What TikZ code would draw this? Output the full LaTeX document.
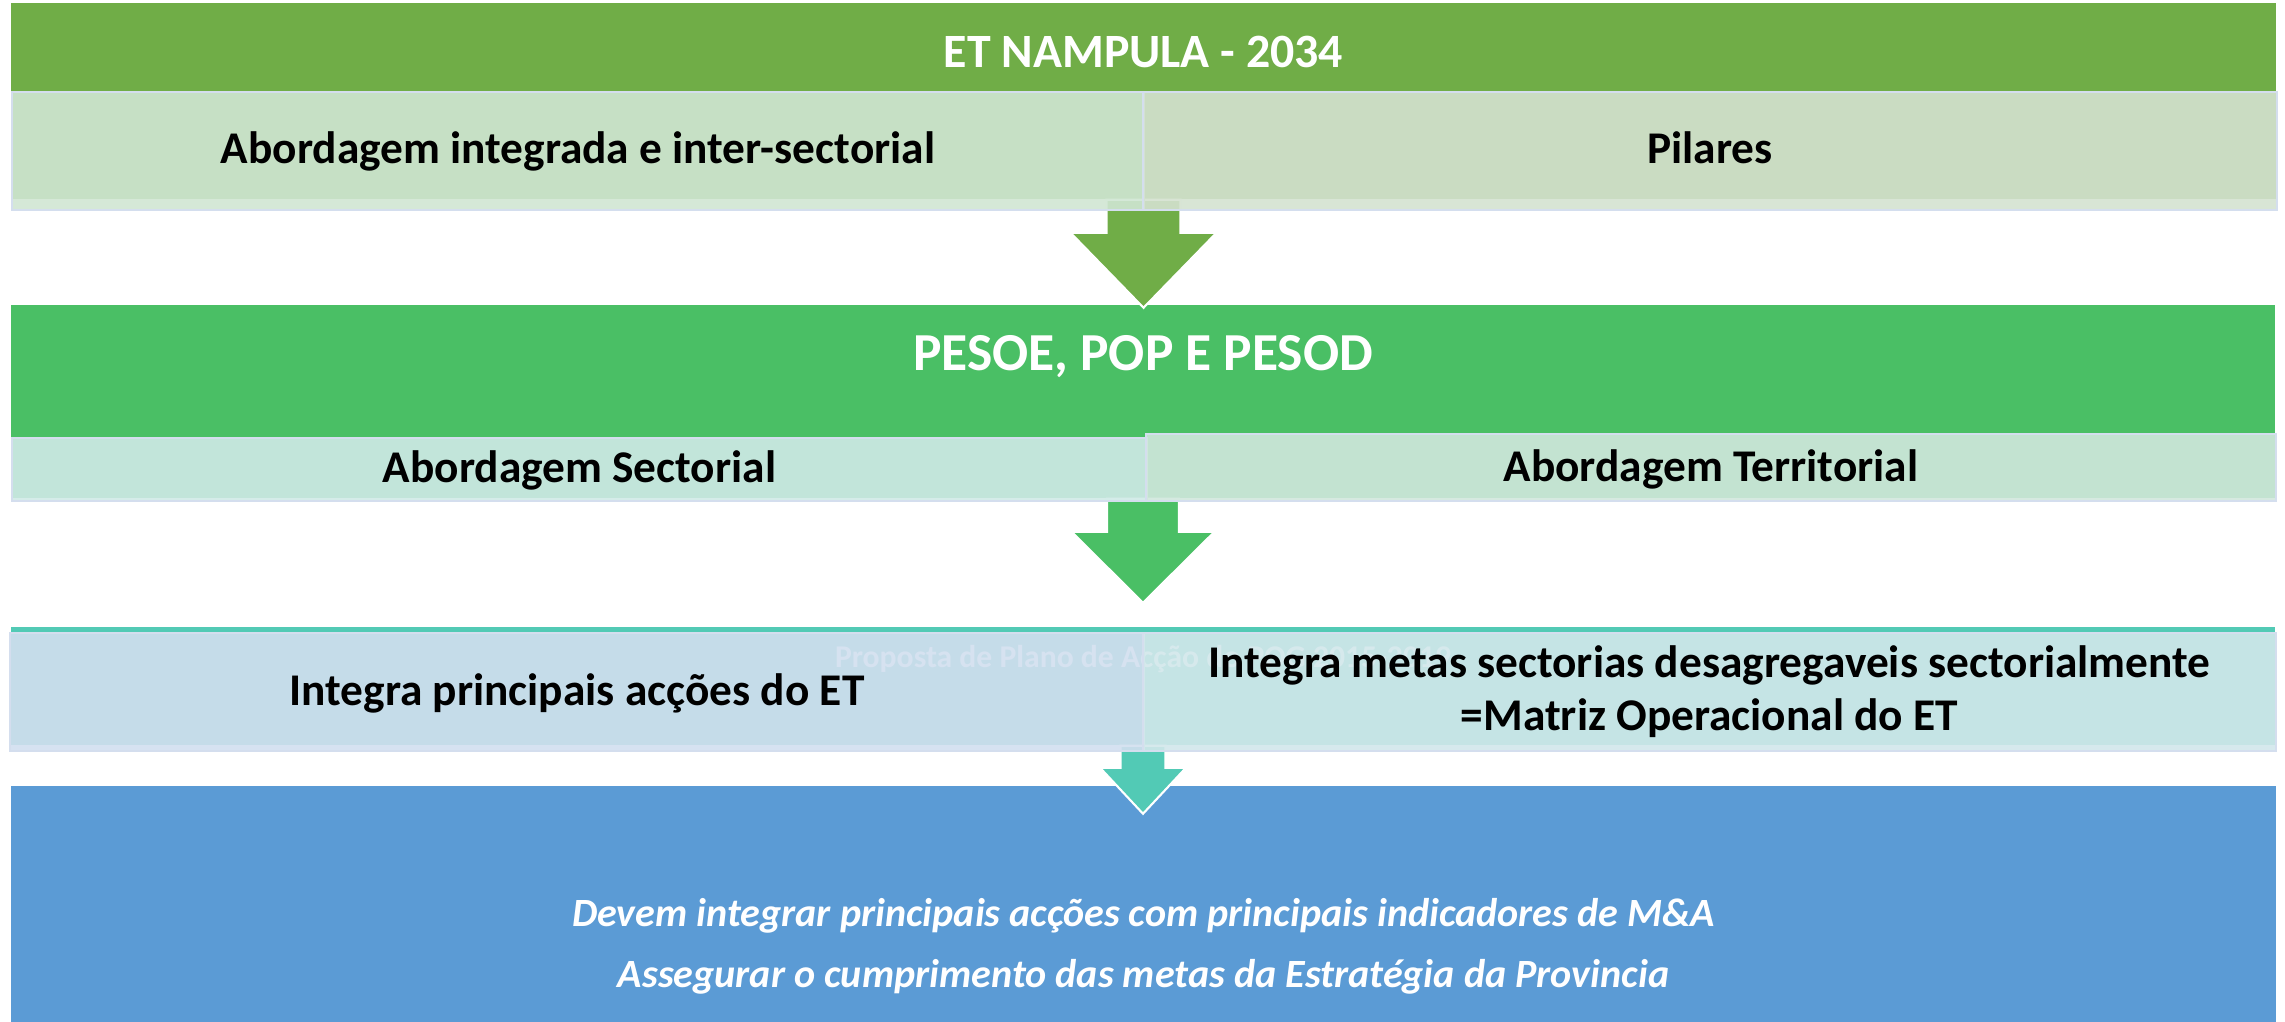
\documentclass[tikz,border=0pt]{standalone}
\usepackage{fontspec}
\setmainfont{Carlito}
\definecolor{etgreen}{RGB}{112,173,71}
\definecolor{pesgreen}{RGB}{74,191,101}
\definecolor{propteal}{RGB}{82,202,181}
\definecolor{mablue}{RGB}{91,155,213}
\definecolor{integfill}{RGB}{208,230,211}
\definecolor{pilfill}{RGB}{212,226,208}
\definecolor{sectfill}{RGB}{208,234,231}
\definecolor{terrfill}{RGB}{209,231,221}
\definecolor{accfill}{RGB}{210,223,239}
\definecolor{metasfill}{RGB}{210,231,235}
\definecolor{boxline}{RGB}{212,222,238}

\begin{document}
\begin{tikzpicture}[x=0.01cm, y=-0.01cm,
    header/.style={inner sep=0pt, text=white, text height=0pt},
    subbox/.style={inner sep=0pt, draw=boxline, line width=0.6pt,
                   fill opacity=0.9, text opacity=1, text=black},
    drop/.style={text height=#1, text depth=0pt},
    labelfont/.style={font=\bfseries\fontsize{12.9}{15}\selectfont},
    flow/.style={draw=white, line width=0.6pt}]
  \useasboundingbox (0,0) rectangle (2285,1021);
  % Header bars of the four levels
  \node(et)[header, fill=etgreen, minimum width=22.63cm, minimum height=1.96cm,
            text depth=0.66cm, font=\bfseries\fontsize{13.6}{16}\selectfont] at (1143.5,101) {ET NAMPULA - 2034};
  \node(pesoe)[header, fill=pesgreen, minimum width=22.62cm, minimum height=1.93cm,
            text depth=0.61cm, font=\bfseries\fontsize{15.2}{18}\selectfont] at (1143,401.5) {PESOE, POP E PESOD};
  \node(prop)[header, fill=propteal, minimum width=22.62cm, minimum height=1.18cm,
            text depth=0.38cm, font=\bfseries\fontsize{9}{11}\selectfont] at (1143,686)
            {Proposta de Plano de Acção do POG 2015-2019};
  \node(meta)[fill=mablue, text=white, align=center, minimum width=22.63cm, minimum height=3.2cm,
            font=\bfseries\itshape\fontsize{11.4}{17.36}\selectfont] at (1143.5,946)
            {Devem integrar principais acções com principais indicadores de M\&A\\
             Assegurar o cumprimento das metas da Estratégia da Provincia};
  % Block arrows between the levels
  \fill[flow, fill=etgreen] (et.south) ++(-37,0) -- ++(0,33) -- ++(-36,0) -- ++(73,75)
        -- ++(73,-75) -- ++(-36,0) -- ++(0,-33) -- cycle;
  \fill[flow, fill=pesgreen] (pesoe.south) ++(-36,0) -- ++(0,33) -- ++(-35.5,0) -- ++(71.5,71)
        -- ++(71.5,-71) -- ++(-35.5,0) -- ++(0,-33) -- cycle;
  \fill[flow, fill=propteal] (prop.south) ++(-22.5,0) -- ++(0,22) -- ++(-20.5,0) -- ++(43,46)
        -- ++(43,-46) -- ++(-20.5,0) -- ++(0,-22) -- cycle;
  % Sub boxes of each level
  \node(integ)[subbox, labelfont, fill=integfill, minimum width=11.32cm, minimum height=1.18cm,
               drop=0.24cm] at (578,151) {Abordagem integrada e inter-sectorial};
  \node(pil)[subbox, labelfont, fill=pilfill, minimum width=11.34cm, minimum height=1.18cm,
             drop=0.24cm] at (1710,151) {Pilares};
  \node(sect)[subbox, labelfont, fill=sectfill, minimum width=11.35cm, minimum height=0.63cm,
              drop=0.25cm] at (579.5,469.5) {Abordagem Sectorial};
  \node(terr)[subbox, labelfont, fill=terrfill, minimum width=11.30cm, minimum height=0.67cm,
              drop=0.27cm] at (1711,467.5) {Abordagem Territorial};
  \node(acc)[subbox, labelfont, fill=accfill, minimum width=11.34cm, minimum height=1.18cm,
             drop=0.26cm] at (577,692) {Integra principais acções do ET};
  \node(metas)[subbox, labelfont, fill=metasfill, align=center, minimum width=11.33cm,
               minimum height=1.18cm] at (1709.5,692)
               {Integra metas sectorias desagregaveis sectorialmente\\=Matriz Operacional do ET};
\end{tikzpicture}
\end{document}
